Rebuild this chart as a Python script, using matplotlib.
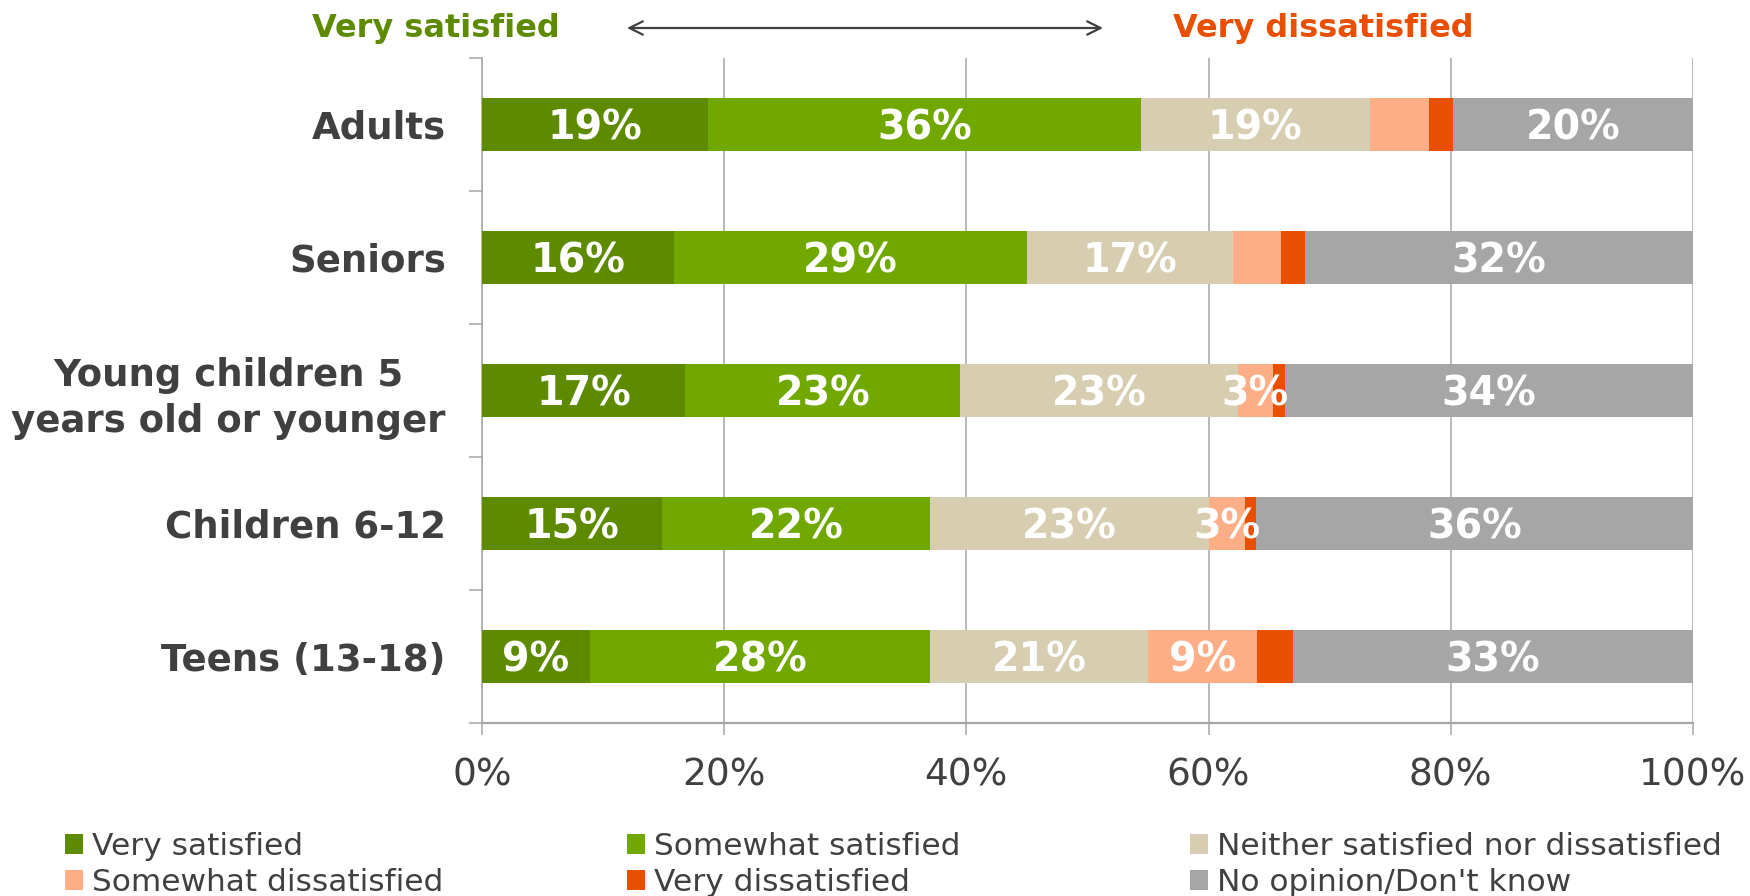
import numpy as np
import matplotlib.pyplot as plt
from matplotlib.patches import Patch

# satisfaction by group (shares of 100%)
categories = ['Adults', 'Seniors', 'Young children 5\nyears old or younger',
              'Children 6-12', 'Teens (13-18)']
very_sat = [18.7, 15.9, 16.8, 14.9, 8.9]
some_sat = [35.7, 29.1, 22.7, 22.1, 28.1]
neither = [18.9, 17.0, 22.9, 23.0, 18.0]
some_dis = [4.9, 4.0, 2.9, 3.0, 9.0]
very_dis = [2.0, 2.0, 1.0, 0.9, 3.0]
no_opinion = [19.8, 32.0, 33.7, 36.1, 33.0]

# labels as printed on the bars ('' = no label)
vs_labels = ['19%', '16%', '17%', '15%', '9%']
ss_labels = ['36%', '29%', '23%', '22%', '28%']
ne_labels = ['19%', '17%', '23%', '23%', '21%']
sd_labels = ['', '', '3%', '3%', '9%']
vd_labels = ['', '', '', '', '']
no_labels = ['20%', '32%', '34%', '36%', '33%']

series_names = ['Very satisfied', 'Somewhat satisfied', 'Neither satisfied nor dissatisfied',
                'Somewhat dissatisfied', 'Very dissatisfied', "No opinion/Don't know"]
colors = ['#5E8A00', '#70A800', '#D7CDB1', '#FDAE86', '#E84F00', '#A6A6A6']
txt = '#404040'
grid_c = '#A6A6A6'

series = [very_sat, some_sat, neither, some_dis, very_dis, no_opinion]
labels = [vs_labels, ss_labels, ne_labels, sd_labels, vd_labels, no_labels]

fig = plt.figure(figsize=(17.5, 8.96), dpi=100)
ax = fig.add_axes([0.2754, 0.1931, 0.692, 0.7422])

y = np.arange(len(categories))
left = np.zeros(len(categories))
for vals, lab, col, name in zip(series, labels, colors, series_names):
    bars = ax.barh(y, vals, left=left, height=0.4, color=col, linewidth=0, zorder=3, label=name)
    anns = ax.bar_label(bars, labels=lab, label_type='center', color='white',
                        fontsize=28.5, fontweight='bold', zorder=4)
    for a in anns:
        a.xyann = (0, -3)   # digits sit a bit lower, like the original
    left += np.array(vals)

ax.set_xlim(0, 100)
ax.set_ylim(len(categories) - 0.5, -0.5)

ax.set_xticks(np.arange(0, 101, 20))
ax.set_xticklabels([f'{v}%' for v in range(0, 101, 20)])
ax.tick_params(axis='x', length=8.6, width=1.1, color=grid_c, labelsize=27,
               labelcolor=txt, pad=16.5)
ax.xaxis.grid(True, color=grid_c, linewidth=1.1, zorder=0)

ax.set_yticks(y)
ax.set_yticklabels(categories)
ax.set_yticks(np.arange(-0.5, len(categories)), minor=True)
ax.tick_params(axis='y', which='major', length=0, labelsize=26.7, labelcolor=txt, pad=26)
ax.tick_params(axis='y', which='minor', length=9.5, width=1.1, color=grid_c)
for t in ax.get_yticklabels():
    t.set_fontweight('bold')
    t.set_multialignment('center')
    t.set_linespacing(1.3)

for s in ['top', 'right']:
    ax.spines[s].set_visible(False)
ax.spines['left'].set_color(grid_c)
ax.spines['left'].set_linewidth(1.1)
ax.spines['bottom'].set_color(grid_c)
ax.spines['bottom'].set_linewidth(1.6)
ax.set_axisbelow(True)

# header: scale direction
W, H = 1750, 896
fig.text(436 / W, 1 - 29 / H, 'Very satisfied', color=colors[0], fontsize=23,
         fontweight='bold', ha='center', va='center')
fig.text(1323 / W, 1 - 29 / H, 'Very dissatisfied', color=colors[4], fontsize=23,
         fontweight='bold', ha='center', va='center')
ax.annotate('', xy=(1103 / W, 1 - 28 / H), xytext=(627 / W, 1 - 28 / H),
            xycoords='figure fraction', textcoords='figure fraction',
            arrowprops=dict(arrowstyle='<->', color=txt, lw=1.6, mutation_scale=24,
                            shrinkA=0, shrinkB=0))

# legend: 3 columns, 2 rows, row-major
handles = [Patch(facecolor=c, edgecolor='none', label=n) for c, n in zip(colors, series_names)]
col_x = [65, 627, 1190]
for i, x0 in enumerate(col_x):
    fig.legend(handles=[handles[i], handles[i + 3]], loc='center left',
               bbox_to_anchor=(x0 / W, 1 - 864.5 / H), frameon=False, fontsize=22.5,
               handlelength=0.58, handleheight=0.58, handletextpad=0.28,
               labelspacing=0.22, borderpad=0, borderaxespad=0, labelcolor=txt)

fig.savefig('out.png', dpi=100)
